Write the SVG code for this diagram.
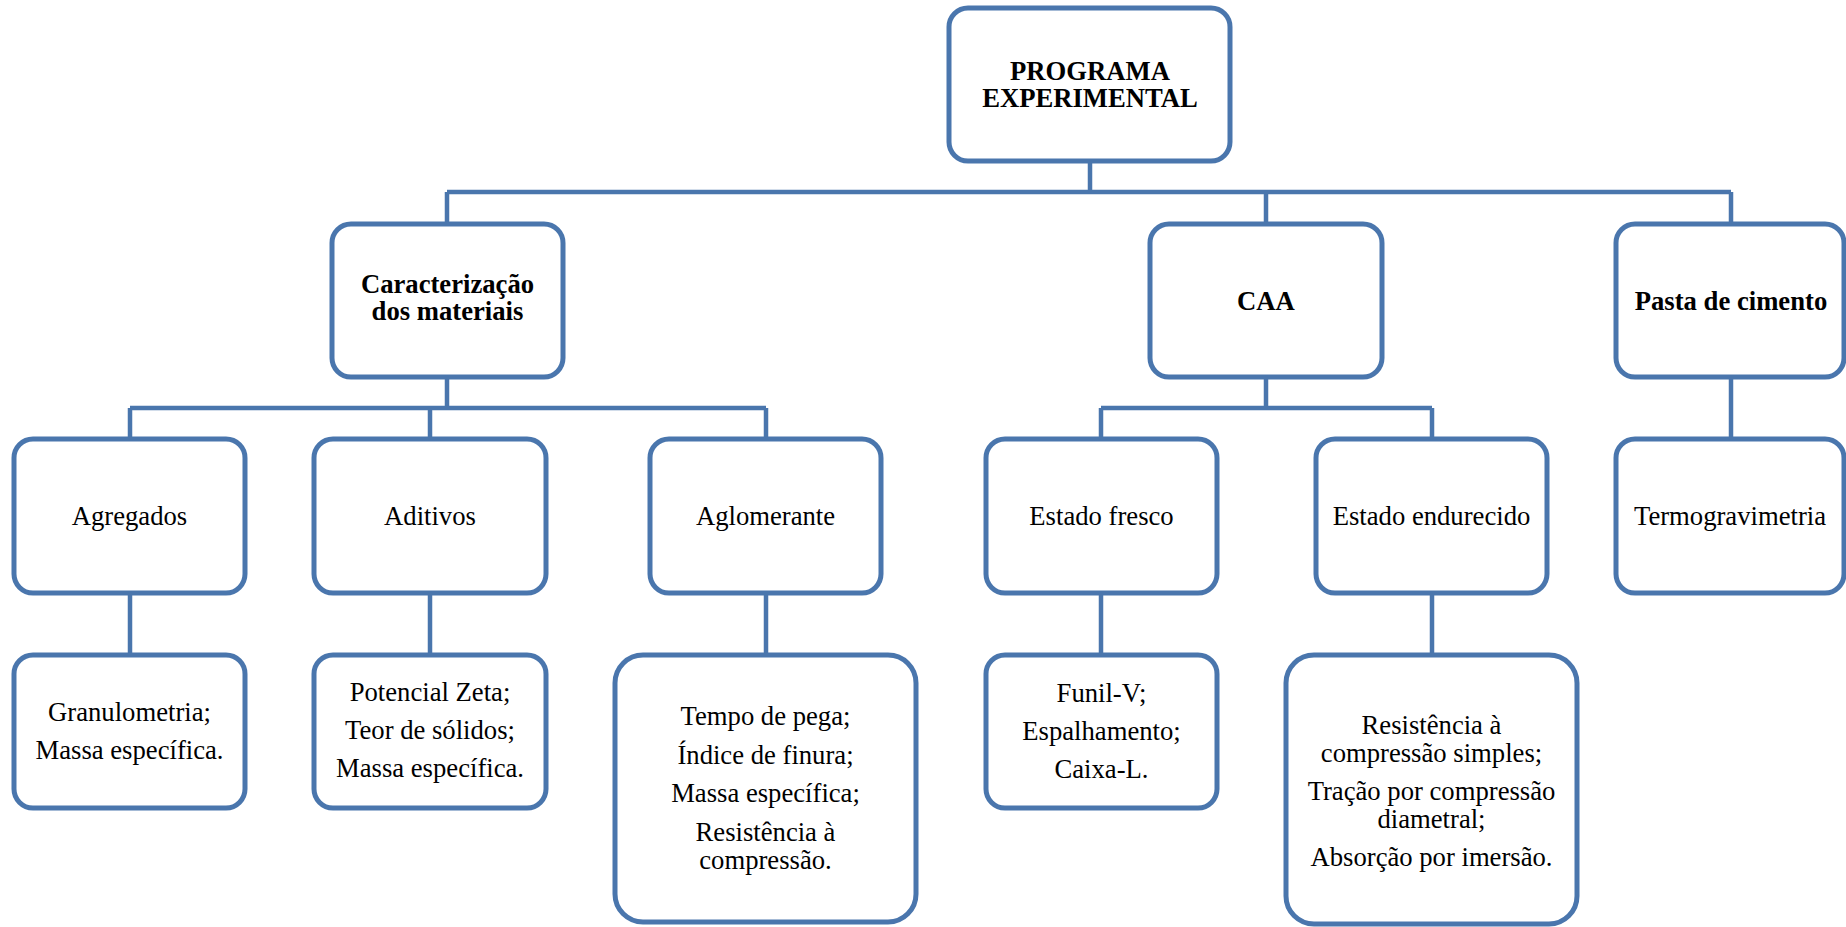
<svg xmlns="http://www.w3.org/2000/svg" width="1846" height="927" viewBox="0 0 1846 927">
<style>
.box{fill:#fff;stroke:#4a76ad;stroke-width:5}
.con{fill:none;stroke:#4a76ad;stroke-width:4.5}
text{font-family:"Liberation Serif","Times New Roman",serif;font-size:26.67px;fill:#000;text-anchor:middle}
.b{font-weight:bold}
</style>
<rect width="1846" height="927" fill="#fff"/>
<g id="connectors">
<path class="con" d="M1090 161V192M447 192H1731M447 192V224M1266 192V224M1731 192V224"/>
<path class="con" d="M447 377V408M130 408H766M130 408V439M430 408V439M766 408V439"/>
<path class="con" d="M1266 377V408M1101 408H1432M1101 408V439M1432 408V439"/>
<path class="con" d="M1731 377V439"/>
<path class="con" d="M130 593V655M430 593V655M766 593V655M1101 593V655M1432 593V655"/>
</g>
<g id="programa"><rect class="box" x="949" y="8" width="281" height="153" rx="19"/><text class="b" x="1090" y="80">PROGRAMA</text><text class="b" x="1090" y="107">EXPERIMENTAL</text></g>
<g id="caracterizacao"><rect class="box" x="332" y="224" width="231" height="153" rx="19"/><text class="b" x="447.5" y="293">Caracterização</text><text class="b" x="447.5" y="320">dos materiais</text></g>
<g id="caa"><rect class="box" x="1150" y="224" width="232" height="153" rx="19"/><text class="b" x="1266" y="309.5">CAA</text></g>
<g id="pasta"><rect class="box" x="1616" y="224" width="228" height="153" rx="19"/><text class="b" x="1731" y="309.5">Pasta de cimento</text></g>
<g id="agregados"><rect class="box" x="14" y="439" width="231" height="154" rx="19"/><text x="129.5" y="525">Agregados</text></g>
<g id="aditivos"><rect class="box" x="314" y="439" width="232" height="154" rx="19"/><text x="430" y="525">Aditivos</text></g>
<g id="aglomerante"><rect class="box" x="650" y="439" width="231" height="154" rx="19"/><text x="765.5" y="525">Aglomerante</text></g>
<g id="estado-fresco"><rect class="box" x="986" y="439" width="231" height="154" rx="19"/><text x="1101.5" y="525">Estado fresco</text></g>
<g id="estado-endurecido"><rect class="box" x="1316" y="439" width="231" height="154" rx="19"/><text x="1431.5" y="525">Estado endurecido</text></g>
<g id="termogravimetria"><rect class="box" x="1616" y="439" width="228" height="154" rx="19"/><text x="1730" y="525">Termogravimetria</text></g>
<g id="granulometria"><rect class="box" x="14" y="655" width="231" height="153" rx="19"/><text x="129.5" y="721">Granulometria;</text><text x="129.5" y="759">Massa específica.</text></g>
<g id="potencial"><rect class="box" x="314" y="655" width="232" height="153" rx="19"/><text x="430" y="701">Potencial Zeta;</text><text x="430" y="739">Teor de sólidos;</text><text x="430" y="777">Massa específica.</text></g>
<g id="tempo"><rect class="box" x="615" y="655" width="301" height="267" rx="28"/><text x="765.5" y="725">Tempo de pega;</text><text x="765.5" y="763.5">Índice de finura;</text><text x="765.5" y="802">Massa específica;</text><text x="765.5" y="840.5">Resistência à</text><text x="765.5" y="869">compressão.</text></g>
<g id="funil"><rect class="box" x="986" y="655" width="231" height="153" rx="19"/><text x="1101.5" y="702">Funil-V;</text><text x="1101.5" y="740">Espalhamento;</text><text x="1101.5" y="778">Caixa-L.</text></g>
<g id="resistencia"><rect class="box" x="1286" y="655" width="291" height="269" rx="28"/><text x="1431.5" y="734">Resistência à</text><text x="1431.5" y="762">compressão simples;</text><text x="1431.5" y="800">Tração por compressão</text><text x="1431.5" y="828">diametral;</text><text x="1431.5" y="866">Absorção por imersão.</text></g>
</svg>
